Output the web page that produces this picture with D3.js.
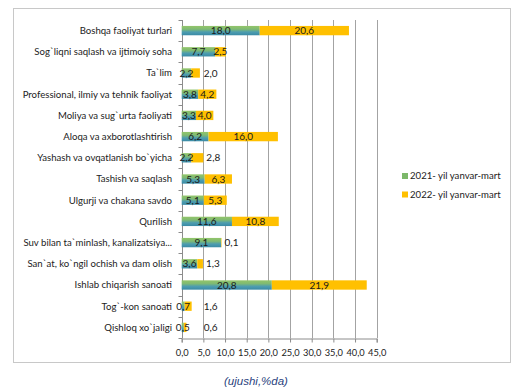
<!DOCTYPE html>
<html><head><meta charset="utf-8">
<script src="https://cdn.jsdelivr.net/npm/d3@7"></script>
<style>body{margin:0;background:#fff}svg{display:block}text{font-family:Lato,"Open Sans",sans-serif}</style>
</head><body>
<script>
const categories = [
  "Boshqa faoliyat turlari",
  "Sog`liqni saqlash va ijtimoiy soha",
  "Ta`lim",
  "Professional, ilmiy va tehnik faoliyat",
  "Moliya va sug`urta faoliyati",
  "Aloqa va axborotlashtirish",
  "Yashash va ovqatlanish bo`yicha",
  "Tashish va saqlash",
  "Ulgurji va chakana savdo",
  "Qurilish",
  "Suv bilan ta`minlash, kanalizatsiya...",
  "San`at, ko`ngil ochish va dam olish",
  "Ishlab chiqarish sanoati",
  "Tog`-kon sanoati",
  "Qishloq xo`jaligi"
];
const values2021 = [18.0, 7.7, 2.2, 3.8, 3.3, 6.2, 2.2, 5.3, 5.1, 11.6, 9.1, 3.6, 20.8, 0.7, 0.5];
const values2022 = [20.6, 2.5, 2.0, 4.2, 4.0, 16.0, 2.8, 6.3, 5.3, 10.8, 0.1, 1.3, 21.9, 1.6, 0.6];
const seriesNames = ["2021- yil yanvar-mart", "2022- yil yanvar-mart"];
const xTicks = [0, 5, 10, 15, 20, 25, 30, 35, 40, 45];
const caption = "(ujushi,%da)";

const W = 529, H = 391;
const svg = d3.select("body").append("svg").attr("width", W).attr("height", H);
const defs = svg.append("defs");
const grad = defs.append("linearGradient").attr("id", "g21").attr("x1", 0).attr("y1", 0).attr("x2", 0).attr("y2", 1);
grad.append("stop").attr("offset", "0%").attr("stop-color", "#93c56a");
grad.append("stop").attr("offset", "35%").attr("stop-color", "#7fba72");
grad.append("stop").attr("offset", "65%").attr("stop-color", "#4d9db0");
grad.append("stop").attr("offset", "100%").attr("stop-color", "#3a8aa5");
const orange = "#ffc000";

// frame
svg.append("rect").attr("x", 13.5).attr("y", 8.5).attr("width", 497).attr("height", 354)
  .attr("fill", "none").attr("stroke", "#c8c8c8").attr("stroke-width", 1);

const x = d3.scaleLinear().domain([0, 45]).range([181.7, 376.7]);
const y = d3.scaleBand().domain(categories).range([20, 338]).paddingInner(0.56).paddingOuter(0.28);

// grid
svg.append("g").selectAll("line").data(xTicks.slice(1)).join("line")
  .attr("x1", d => Math.round(x(d)) + 0.5).attr("x2", d => Math.round(x(d)) + 0.5)
  .attr("y1", 20).attr("y2", 338).attr("stroke", "#8c8c8c").attr("stroke-width", 0.8);

// x axis
const xa = svg.append("g").attr("transform", "translate(0,338.5)")
  .call(d3.axisBottom(x).tickValues(xTicks).tickSize(4).tickFormat(d => d3.format(".1f")(d).replace(".", ",")));
xa.select(".domain").attr("stroke", "#8c8c8c");
xa.selectAll(".tick line").attr("stroke", "#8c8c8c");
xa.selectAll("text").attr("font-size", 9.3).attr("fill", "#222").attr("dy", "1.1em");

// y axis
const ya = svg.append("g").attr("transform", `translate(${Math.round(x(0)) + 0.5},0)`);
ya.append("line").attr("y1", 20).attr("y2", 338).attr("stroke", "#8c8c8c");
const bounds = d3.range(categories.length + 1).map(i => 20 + i * (318 / categories.length));
ya.selectAll(".tk").data(bounds).join("line").attr("class", "tk")
  .attr("x1", -4).attr("x2", 0).attr("y1", d => Math.round(d) + 0.5).attr("y2", d => Math.round(d) + 0.5)
  .attr("stroke", "#8c8c8c");
svg.append("g").selectAll("text").data(categories).join("text")
  .attr("x", 172).attr("y", d => y(d) + y.bandwidth() / 2).attr("dy", "0.35em")
  .attr("text-anchor", "end").attr("font-size", 9.6).attr("fill", "#222").text(d => d);

// bars
const fmt = v => d3.format(".1f")(v).replace(".", ",");
const gBars = svg.append("g");
categories.forEach((c, i) => {
  const a = values2021[i], b = values2022[i];
  const yy = y(c), h = y.bandwidth();
  gBars.append("rect").attr("x", x(0)).attr("y", yy).attr("width", x(a) - x(0)).attr("height", h).attr("fill", "url(#g21)");
  gBars.append("rect").attr("x", x(a)).attr("y", yy).attr("width", x(a + b) - x(a)).attr("height", h).attr("fill", orange);
  gBars.append("text").attr("x", (x(0) + x(a)) / 2).attr("y", yy + h / 2).attr("dy", "0.36em")
    .attr("text-anchor", "middle").attr("font-size", 10).attr("fill", "#1a1a1a").text(fmt(a));
  const t = gBars.append("text").attr("y", yy + h / 2).attr("dy", "0.36em")
    .attr("font-size", 10).attr("fill", "#1a1a1a").text(fmt(b));
  const segW = x(a + b) - x(a);
  if (segW < 10.5 || (segW < 13 && a < 3)) {
    t.attr("x", Math.max(x(a + b) + 3, x(0) + 22)).attr("text-anchor", "start");
  } else {
    t.attr("x", (x(a) + x(a + b)) / 2).attr("text-anchor", "middle");
  }
});

// legend
const lg = svg.append("g");
[["url(#g21)", "#7cb86a"], [orange, orange]].forEach((c, i) => {
  const ly = 176 + i * 18.5;
  lg.append("rect").attr("x", 402).attr("y", ly - 3).attr("width", 6).attr("height", 6).attr("fill", c[1]);
  lg.append("text").attr("x", 410).attr("y", ly).attr("dy", "0.35em").attr("font-size", 9.6).attr("fill", "#222").text(seriesNames[i]);
});

// caption
svg.append("text").attr("x", 256).attr("y", 385).attr("text-anchor", "middle")
  .attr("font-size", 11.5).attr("font-style", "italic").attr("fill", "#2a3f7e")
  .style("font-family", "'Liberation Sans', Arial, sans-serif").text(caption);
</script>
</body></html>
